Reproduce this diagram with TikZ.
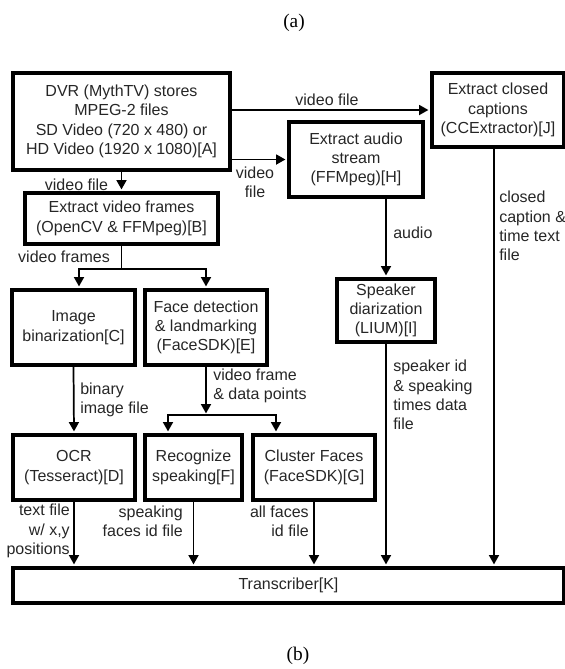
\documentclass[tikz,border=0pt]{standalone}
\usepackage{fontspec}
\setmainfont{Liberation Sans}
\newfontfamily\capfont{Liberation Serif}
\usepackage{tikz}
\usetikzlibrary{calc,arrows.meta}

\begin{document}
\begin{tikzpicture}[x=0.75pt, y=-0.75pt,
    blk/.style 2 args={draw, line width=3pt, align=center, inner sep=0pt, text=black!85,
        minimum width=#1*0.75pt, minimum height=#2*0.75pt, font=\fontsize{12}{14.5}\selectfont},
    lbl/.style={inner sep=0pt, text=black!85, font=\fontsize{12}{14.5}\selectfont},
    arr/.style={-{Triangle[length=7pt,width=7.5pt]}, line width=1.3pt, shorten >=1.2pt},
    ln/.style={line width=1.3pt},
    sublbl/.style={inner sep=0pt, font=\capfont\fontsize{14.5}{16}\selectfont}]
    \useasboundingbox (0,0) rectangle (565,669);

    % Captions
    \node[sublbl] (capa) at (294,23) {(a)};
    \node[sublbl] (capb) at (298,656) {(b)};

    % Top row
    \node[blk={217}{97}] (dvr) at (121.5,121.5) {DVR (MythTV) stores\\MPEG-2 files\\SD Video (720 x 480) or\\HD Video (1920 x 1080)[A]};
    \node[blk={132}{74}] (ccx) at (498,110) {Extract closed\\captions\\(CCExtractor)[J]};
    \node[blk={134}{75}] (aud) at (356,159.5) {Extract audio\\stream\\(FFMpeg)[H]};
    \node[blk={193}{51}] (frm) at (121.5,218.5) {Extract video frames\\(OpenCV \& FFMpeg)[B]};

    % Middle row
    \node[blk={123}{75}] (bin) at (73.5,327.5) {Image\\binarization[C]};
    \node[blk={122}{75}] (face) at (206,327.5) {Face detection\\\& landmarking\\(FaceSDK)[E]};
    \node[blk={98}{63}] (spk) at (386,310.5) {Speaker\\diarization\\(LIUM)[I]};

    % Bottom row
    \node[blk={122}{65}] (ocr) at (74,467.5) {OCR\\(Tesseract)[D]};
    \node[blk={97}{65}] (rec) at (193.5,467.5) {Recognize\\speaking[F]};
    \node[blk={122}{65}] (clu) at (314,467.5) {Cluster Faces\\(FaceSDK)[G]};
    \node[blk={551}{35}] (trn) at (288.5,585.5) {Transcriber[K]};

    % Split points
    \coordinate (fsplit) at ($(frm.south)+(0,23)$);
    \coordinate (esplit) at ($(face.south)+(0,48)$);
    \coordinate (ccxout) at ($(ccx.south)+(-4,0)$);

    % Connectors from the DVR
    \draw[arr] (dvr.east |- ccx.west) -- (ccx.west);
    \draw[arr] (dvr.east |- aud.west) -- (aud.west);
    \draw[arr] (dvr.south) -- (frm.north);

    % Frames to binarization and faces
    \draw[ln] (frm.south) -- (fsplit);
    \draw[arr] (fsplit) -| ($(bin.north)+(5.5,0)$);
    \draw[arr] (fsplit) -| (face.north);
    \draw[arr] (bin.south) -- (ocr.north);
    \draw[arr] (face.south) -- (esplit);
    \draw[arr] (esplit) -| ($(rec.north west)+(25,0)$);
    \draw[arr] (esplit) -| ($(clu.north west)+(25,0)$);

    % Audio
    \draw[arr] (aud.south -| spk.north) -- (spk.north);

    % Into the transcriber
    \draw[arr] (ocr.south) -- (ocr.south |- trn.north);
    \draw[arr] (rec.south) -- (rec.south |- trn.north);
    \draw[arr] (clu.south) -- (clu.south |- trn.north);
    \draw[arr] (spk.south) -- (spk.south |- trn.north);
    \draw[arr] (ccxout) -- (ccxout |- trn.north);

    % Labels
    \node[lbl] (lvfa) at (327,100) {video file};
    \node[lbl, align=center] (lvfb) at (255,182) {video\\file};
    \node[lbl] (lvfc) at (76.5,185) {video file};
    \node[lbl] (lvfr) at (64,257) {video frames};
    \node[lbl, align=left, anchor=west] (lbin) at (80,400) {binary\\image file};
    \node[lbl, align=left, anchor=west] (lpts) at (213,386) {video frame\\\& data points};
    \node[lbl, anchor=west] (laud) at (393,233) {audio};
    \node[lbl, align=left, anchor=west] (lcc) at (499,226) {closed\\caption \&\\time text\\file};
    \node[lbl, align=left, anchor=west] (lspk) at (393,395) {speaker id\\\& speaking\\times data\\file};
    \node[lbl, align=right, anchor=east] (ltxt) at (70,531) {text file\\w/ x,y\\positions};
    \node[lbl, align=right, anchor=east] (lsf) at (183,521) {speaking\\faces id file};
    \node[lbl, align=right, anchor=east] (laf) at (309,521) {all faces\\id file};
\end{tikzpicture}
\end{document}
